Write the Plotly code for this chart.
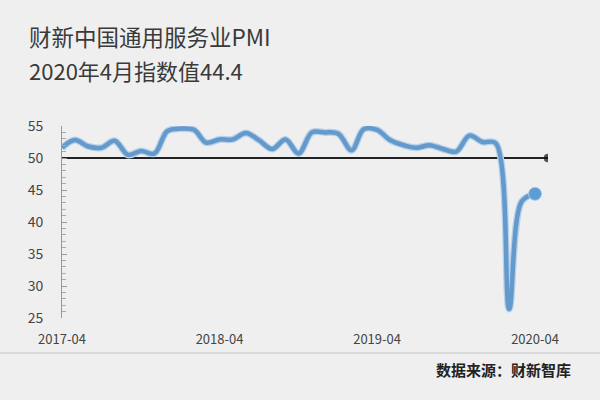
import plotly.graph_objects as go

# ---- data ----
months = [
    "2017-04-01", "2017-05-01", "2017-06-01", "2017-07-01", "2017-08-01", "2017-09-01",
    "2017-10-01", "2017-11-01", "2017-12-01", "2018-01-01", "2018-02-01", "2018-03-01",
    "2018-04-01", "2018-05-01", "2018-06-01", "2018-07-01", "2018-08-01", "2018-09-01",
    "2018-10-01", "2018-11-01", "2018-12-01", "2019-01-01", "2019-02-01", "2019-03-01",
    "2019-04-01", "2019-05-01", "2019-06-01", "2019-07-01", "2019-08-01", "2019-09-01",
    "2019-10-01", "2019-11-01", "2019-12-01", "2020-01-01", "2020-02-01", "2020-03-01",
    "2020-04-01",
]
pmi = [
    51.6, 52.8, 51.8, 51.6, 52.7, 50.5,
    51.1, 50.7, 54.2, 54.6, 54.4, 52.4,
    52.9, 52.9, 53.9, 52.8, 51.4, 52.9,
    50.7, 54.0, 54.0, 53.8, 51.2, 54.5,
    54.4, 52.8, 52.0, 51.6, 52.0, 51.4,
    51.0, 53.5, 52.5, 52.3, 26.4, 43.2,
    44.4,
]
x_tick_vals = ["2017-04-01", "2018-04-01", "2019-04-01", "2020-04-01"]
x_tick_text = ["2017-04", "2018-04", "2019-04", "2020-04"]
y_tick_vals = [25, 30, 35, 40, 45, 50, 55]
x_range = ["2017-04-01", "2020-05-01"]
y_range = [25, 55]
ref_level = 50

title_text = "财新中国通用服务业PMI"
subtitle_text = "2020年4月指数值44.4"
source_text = "数据来源：财新智库"

FONT = "Noto Sans CJK SC, Noto Sans, sans-serif"
BG = "#efefef"

fig = go.Figure()

# reference line at 50 with dot at right end
fig.add_trace(go.Scatter(
    x=x_range, y=[ref_level, ref_level], mode="lines+markers",
    line=dict(color="#222222", width=2),
    marker=dict(size=[0, 8], color="#111111"),
    hoverinfo="skip", showlegend=False,
))

# halo of the main line
fig.add_trace(go.Scatter(
    x=months, y=pmi, mode="lines",
    line=dict(color="#b7d1ea", width=7, shape="spline", smoothing=1.0),
    hoverinfo="skip", showlegend=False,
))
# main line
fig.add_trace(go.Scatter(
    x=months, y=pmi, mode="lines",
    line=dict(color="#6499cb", width=4.5, shape="spline", smoothing=1.0),
    showlegend=False,
))
# last point marker
fig.add_trace(go.Scatter(
    x=[months[-1]], y=[pmi[-1]], mode="markers",
    marker=dict(size=13, color="#5d9dd6", line=dict(color="#a9cbea", width=1)),
    showlegend=False,
))

fig.update_layout(
    width=600, height=400,
    margin=dict(l=62, r=52, t=126, b=82),
    paper_bgcolor=BG, plot_bgcolor=BG,
    font=dict(family=FONT, color="#444444"),
    showlegend=False,
    xaxis=dict(
        type="date", range=x_range,
        tickvals=x_tick_vals, ticktext=x_tick_text,
        showgrid=False, zeroline=False, showline=False,
        ticks="", tickfont=dict(size=13, color="#444444"),
        ticklabelstandoff=12,
    ),
    yaxis=dict(
        range=y_range, tickvals=y_tick_vals,
        showgrid=False, zeroline=False,
        showline=True, linecolor="#999999", linewidth=1,
        ticks="inside", ticklen=5, tickcolor="#999999", tickwidth=1,
        minor=dict(dtick=1, ticks="inside", ticklen=4, tickcolor="#aaaaaa", tickwidth=1),
        tickfont=dict(size=14, color="#444444"),
        ticklabelstandoff=15,
    ),
    annotations=[
        dict(text=title_text, xref="paper", yref="paper", x=-0.072, y=1.469,
             xanchor="left", yanchor="middle", showarrow=False,
             font=dict(family=FONT, size=22.5, color="#3a3a3a")),
        dict(text=subtitle_text, xref="paper", yref="paper", x=-0.072, y=1.292,
             xanchor="left", yanchor="middle", showarrow=False,
             font=dict(family=FONT, size=22, color="#3a3a3a")),
        dict(text="<b>" + source_text + "</b>", xref="paper", yref="paper", x=1.052, y=-0.266,
             xanchor="right", yanchor="middle", showarrow=False,
             font=dict(family=FONT, size=15, color="#222222")),
    ],
    shapes=[
        dict(type="line", xref="paper", yref="paper",
             x0=-0.2, x1=1.2, y0=-0.182, y1=-0.182,
             line=dict(color="#d9d9d9", width=2), layer="below"),
    ],
)

fig.write_html("out.html", config={"displayModeBar": False})

# remove the browser's default page margin so the figure sits at (0, 0)
with open("out.html", "r", encoding="utf-8") as f:
    html = f.read()
html = html.replace("<head>", "<head><style>html,body{margin:0;padding:0;overflow:hidden;background:#efefef}</style>", 1)
with open("out.html", "w", encoding="utf-8") as f:
    f.write(html)
